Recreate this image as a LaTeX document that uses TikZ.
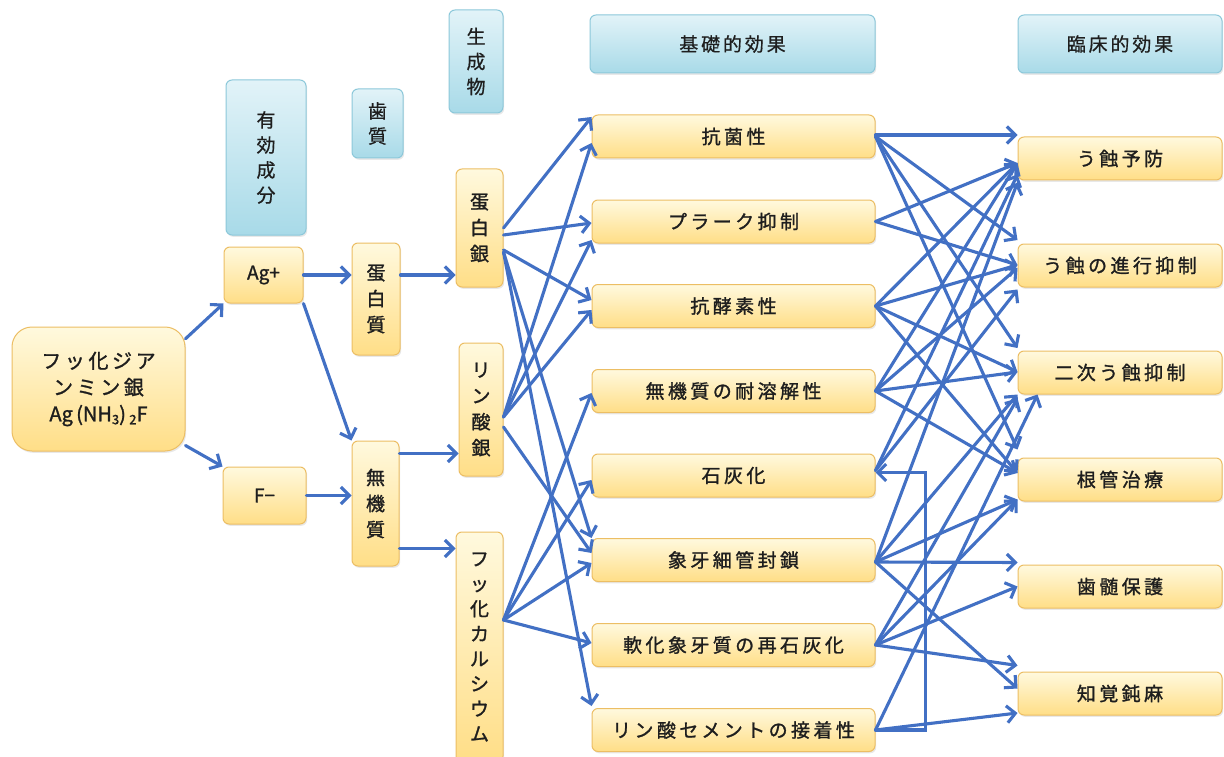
\documentclass[tikz,border=0pt]{standalone}
\usepackage{fontspec}
\usetikzlibrary{arrows.meta,shadows,calc}
\newfontfamily\jp[FakeBold=1.3]{Noto Sans CJK JP}
\newfontfamily\jps[FakeBold=1.3,LetterSpace=18]{Noto Sans CJK JP}
\newfontfamily\jph[FakeBold=0.6,LetterSpace=15]{Noto Sans CJK JP}
\definecolor{ytop}{RGB}{255,249,222}
\definecolor{ybot}{RGB}{255,222,135}
\definecolor{ybord}{RGB}{236,190,100}
\definecolor{btop}{RGB}{226,243,248}
\definecolor{bbot}{RGB}{168,218,232}
\definecolor{bbord}{RGB}{140,200,218}
\definecolor{arrc}{RGB}{66,112,196}
\definecolor{txt}{RGB}{30,30,30}
\tikzset{
  basebox/.style={line width=1pt, rounded corners=6pt, inner sep=0pt, align=center, text=txt,
    drop shadow={shadow xshift=1.2pt, shadow yshift=-1.8pt, opacity=0.18}},
  ybox/.style={basebox, draw=ybord, top color=ytop, bottom color=ybot,
    font=\jp\fontsize{19}{26}\selectfont},
  hbox/.style={ybox, font=\jps\fontsize{19}{26}\selectfont},
  bbox/.style={basebox, draw=bbord, top color=btop, bottom color=bbot,
    font=\jph\fontsize{19}{25}\selectfont},
  hbbox/.style={bbox, font=\jph\fontsize{19}{25}\selectfont},
  wide/.style={hbox, minimum width=283pt, minimum height=43pt},
  cwide/.style={hbox, minimum width=204pt, minimum height=43pt},
  arr/.style={draw=arrc, line width=3.1pt, line cap=round,
    -{Straight Barb[length=8.5pt,width=17pt]}},
}
\newcommand\lnk[4]{\draw[arr] ([yshift=#2pt]#1.east) -- ([yshift=#4pt]#3.west);}
\begin{document}
\begin{tikzpicture}[x=1pt,y=-1pt]
\fill[white] (0,0) rectangle (1224,757);
\useasboundingbox (0,0) rectangle (1224,757);
% headers
\node[bbox, minimum width=80pt, minimum height=155pt] (h1) at (266,157.5) {有\\効\\成\\分};
\node[bbox, minimum width=51pt, minimum height=69pt] (h2) at (377.5,123.5) {歯\\質};
\node[bbox, minimum width=54pt, minimum height=103pt] (h3) at (476,61.5) {生\\成\\物};
\node[hbbox, minimum width=285pt, minimum height=58pt] (h4) at (732.5,44) {基礎的効果};
\node[hbbox, minimum width=204pt, minimum height=58pt] (h5) at (1120,44) {臨床的効果};
% left column
\node[hbox, minimum width=173pt, minimum height=124pt, rounded corners=20pt,
  font=\jps\fontsize{20}{26.5}\selectfont] (src) at (98.5,389)
  {フッ化ジア\\ンミン銀\\{\jp Ag\,(NH{\fontsize{13}{13}\selectfont\raisebox{-3pt}{3}})\,{\fontsize{13}{13}\selectfont\raisebox{-3pt}{2}}F}};
\node[ybox, minimum width=79pt, minimum height=56pt] (ag) at (263.5,275) {Ag+};
\node[ybox, minimum width=83pt, minimum height=57pt] (fm) at (264.5,495.5) {F−};
\node[ybox, minimum width=48pt, minimum height=112pt] (prot) at (376,299) {蛋\\白\\質};
\node[ybox, minimum width=47pt, minimum height=125pt] (inorg) at (375.5,503.5) {無\\機\\質};
\node[ybox, minimum width=47pt, minimum height=118pt] (ps) at (479.5,228) {蛋\\白\\銀};
\node[ybox, minimum width=44pt, minimum height=133pt] (ap) at (481,409.5) {リ\\ン\\酸\\銀};
\node[ybox, minimum width=47pt, minimum height=230pt, font=\jp\fontsize{19}{25}\selectfont] (caf) at (479.5,647) {フ\\ッ\\化\\カ\\ル\\シ\\ウ\\ム};
% basic effects
\node[wide] (a1) at (733.5,136.5) {抗菌性};
\node[wide] (a2) at (733.5,221.5) {プラーク抑制};
\node[wide] (a3) at (733.5,306) {抗酵素性};
\node[wide] (a4) at (733.5,391) {無機質の耐溶解性};
\node[wide] (a5) at (733.5,475.5) {石灰化};
\node[wide] (a6) at (733.5,560) {象牙細管封鎖};
\node[wide] (a7) at (733.5,645) {軟化象牙質の再石灰化};
\node[wide] (a8) at (733.5,730) {リン酸セメントの接着性};
% clinical effects
\node[cwide] (c1) at (1120,158.5) {う蝕予防};
\node[cwide] (c2) at (1120,265.5) {う蝕の進行抑制};
\node[cwide] (c3) at (1120,372.5) {二次う蝕抑制};
\node[cwide] (c4) at (1120,479.5) {根管治療};
\node[cwide] (c5) at (1120,586.5) {歯髄保護};
\node[cwide] (c6) at (1120,693.5) {知覚鈍麻};
% left connectors
\draw[arr] (src.30) -- (ag.south west);
\draw[arr] (src.-33) -- (fm.north west);
\draw[arr] (ag.east) -- (ag.east -| prot.west);
\draw[arr] (ag.south east) -- (inorg.north west);
\draw[arr] (fm.east) -- (fm.east -| inorg.west);
\draw[arr] (prot.east |- ag.east) -- (ps.west |- ag.east);
\draw[arr] ([yshift=50pt]inorg.east) -- ([yshift=50pt]inorg.east -| ap.west);
\draw[arr] ([yshift=-45pt]inorg.east) -- ([yshift=-45pt]inorg.east -| caf.west);
% products -> basic effects
\lnk{ps}{0}{a1}{19.5}
\lnk{ps}{-7}{a2}{-1.5}
\lnk{ps}{-22}{a3}{6}
\lnk{ps}{-24}{a6}{22}
\lnk{ps}{-24}{a8}{24}
\lnk{ap}{-7.5}{a1}{-6.5}
\lnk{ap}{-7.5}{a2}{-18.5}
\lnk{ap}{-7.5}{a3}{-4}
\lnk{ap}{-17.5}{a6}{7}
\lnk{caf}{27}{a4}{-2}
\lnk{caf}{27}{a5}{-4.5}
\lnk{caf}{27}{a6}{-3}
\lnk{caf}{27}{a7}{2}
% basic -> clinical
\lnk{a1}{1.5}{c1}{23.5}
\lnk{a1}{0}{c2}{25.5}
\lnk{a1}{0}{c3}{24.5}
\lnk{a1}{0}{c4}{30}
\lnk{a2}{0}{c1}{-4.5}
\lnk{a2}{0}{c2}{0.5}
\lnk{a3}{0}{c1}{-4.5}
\lnk{a3}{0}{c2}{0.5}
\lnk{a3}{0}{c3}{0.5}
\lnk{a3}{0}{c4}{6.5}
\lnk{a4}{0}{c1}{-4.5}
\lnk{a4}{0}{c2}{-2.5}
\lnk{a4}{0}{c3}{0.5}
\lnk{a4}{0}{c4}{6.5}
\lnk{a5}{5}{c1}{-16}
\lnk{a5}{5}{c2}{-24}
\lnk{a6}{-2}{c1}{-24}
\lnk{a6}{-2}{c3}{-22}
\lnk{a6}{-2}{c4}{-20}
\lnk{a6}{-2}{c5}{24}
\lnk{a6}{-2}{c6}{5}
\lnk{a7}{0}{c3}{-26}
\lnk{a7}{0}{c4}{-20}
\lnk{a7}{0}{c5}{0}
\lnk{a7}{0}{c6}{28}
\draw[arr] (a8.east) -- ([xshift=20pt]c3.south west);
\lnk{a8}{0}{c6}{-19.5}
\draw[arr] (a8.east) -- ++(50,0) |- ([yshift=3pt]a5.east);
\end{tikzpicture}
\end{document}
